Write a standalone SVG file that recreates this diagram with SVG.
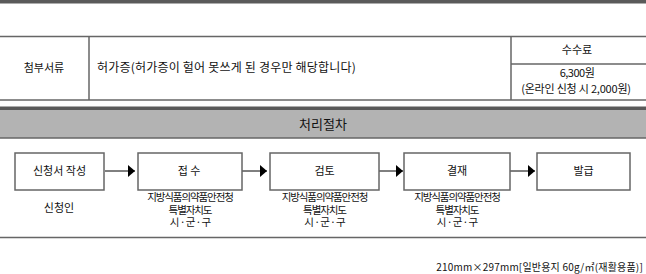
<svg xmlns="http://www.w3.org/2000/svg" width="646" height="274" viewBox="0 0 646 274">
<style>
text{font-family:"Noto Sans CJK KR","Noto Sans",sans-serif;fill:#111;}
.t{font-size:11px;}
.s{font-size:10.5px;letter-spacing:-1.1px;}
.ln{stroke:#666;stroke-width:1.5;fill:none;}
.box{fill:#fff;stroke:#666;stroke-width:1.5;}
.ar{stroke:#000;stroke-width:1;fill:none;}
</style>
<defs>
<marker id="ah" markerWidth="8" markerHeight="12" refX="7" refY="6" orient="auto" markerUnits="userSpaceOnUse">
<path d="M0,0 L7,6 L0,12 Z" fill="#000"/>
</marker>
</defs>
<rect x="0" y="0" width="646" height="3.5" fill="#5a5a5a"/>
<g id="table">
<line class="ln" x1="0" y1="36.5" x2="646" y2="36.5"/>
<line class="ln" x1="0" y1="100" x2="646" y2="100"/>
<line class="ln" x1="89" y1="36.5" x2="89" y2="100"/>
<line class="ln" x1="511" y1="36.5" x2="511" y2="100"/>
<line class="ln" x1="511" y1="64" x2="646" y2="64"/>
<text class="t" x="44" y="72" text-anchor="middle">첨부서류</text>
<text x="97" y="72" style="font-size:12px" letter-spacing="0.2">허가증(허가증이 헐어 못쓰게 된 경우만 해당합니다)</text>
<text class="t" x="577" y="54" text-anchor="middle">수수료</text>
<text class="t" x="577" y="77" text-anchor="middle" letter-spacing="-0.5">6,300원</text>
<text class="t" x="576" y="93" text-anchor="middle" letter-spacing="-0.2">(온라인 신청 시 2,000원)</text>
</g>
<rect x="0" y="106.5" width="646" height="3.5" fill="#5a5a5a"/>
<g id="header">
<rect x="0" y="110" width="646" height="28" fill="#b3b3b3"/>
<line x1="0" y1="138" x2="646" y2="138" stroke="#666" stroke-width="1.5"/>
<text x="323" y="129" text-anchor="middle" style="font-size:13px">처리절차</text>
</g>
<g id="connectors">
<line class="ar" x1="105" y1="171" x2="135" y2="171" marker-end="url(#ah)"/>
<line class="ar" x1="242" y1="171" x2="267" y2="171" marker-end="url(#ah)"/>
<line class="ar" x1="379" y1="171" x2="403" y2="171" marker-end="url(#ah)"/>
<line class="ar" x1="510" y1="171" x2="535" y2="171" marker-end="url(#ah)"/>
</g>
<g id="n1">
<rect class="box" x="15" y="153" width="89" height="37"/>
<text class="t" x="59.5" y="175" text-anchor="middle">신청서 작성</text>
<text class="t" x="59" y="212" text-anchor="middle">신청인</text>
</g>
<g id="n2">
<rect class="box" x="138" y="153" width="104" height="37"/>
<text class="t" x="189" y="175" text-anchor="middle">접 수</text>
<text class="s" text-anchor="middle"><tspan x="190" y="201">지방식품의약품안전청</tspan><tspan x="190" y="213.5">특별자치도</tspan><tspan x="190" y="226">시 · 군 · 구</tspan></text>
</g>
<g id="n3">
<rect class="box" x="270" y="153" width="109" height="37"/>
<text class="t" x="324.5" y="175" text-anchor="middle">검토</text>
<text class="s" text-anchor="middle"><tspan x="324.5" y="201">지방식품의약품안전청</tspan><tspan x="324.5" y="213.5">특별자치도</tspan><tspan x="324.5" y="226">시 · 군 · 구</tspan></text>
</g>
<g id="n4">
<rect class="box" x="404" y="153" width="106" height="37"/>
<text class="t" x="457" y="175" text-anchor="middle">결재</text>
<text class="s" text-anchor="middle"><tspan x="457" y="201">지방식품의약품안전청</tspan><tspan x="457" y="213.5">특별자치도</tspan><tspan x="457" y="226">시 · 군 · 구</tspan></text>
</g>
<g id="n5">
<rect class="box" x="537" y="153" width="93" height="37"/>
<text class="t" x="583.5" y="175" text-anchor="middle">발급</text>
</g>
<line class="ln" x1="0" y1="237.5" x2="646" y2="237.5"/>
<text x="643" y="271" text-anchor="end" style="font-size:10px" letter-spacing="0.2">210mm×297mm[일반용지 60g/㎡(재활용품)]</text>
</svg>
